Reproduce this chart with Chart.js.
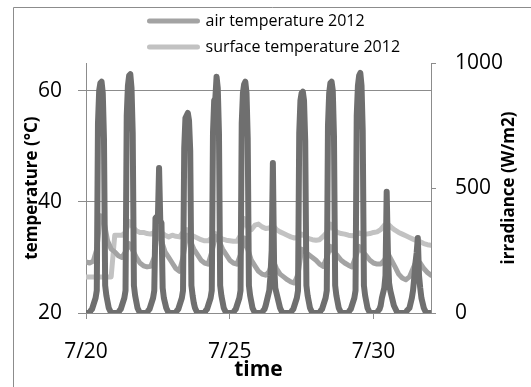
<!DOCTYPE html>
<html>
<head>
<meta charset="utf-8">
<script src="https://cdn.jsdelivr.net/npm/chart.js@4"></script>
<style>
  html, body { margin: 0; padding: 0; background: #fff; }
</style>
</head>
<body>
<canvas id="chart" width="531" height="387"></canvas>
<script>
// x axis is in days after 7/20 00:00
const tickDays = [0, 5, 10];
const tickLabels = ["7/20", "7/25", "7/30"];

// hourly irradiance (W/m2), one line per day, 7/20 .. 7/31, plus 8/1 00:00
const irradiance = [
  0, 0, 0, 0, 10, 15, 30, 45, 60, 90, 760, 890, 920, 925, 880, 700, 110, 70, 45, 20, 10, 0, 0, 0,
  0, 0, 0, 0, 10, 15, 30, 45, 60, 90, 790, 910, 950, 955, 900, 720, 110, 70, 45, 20, 10, 0, 0, 0,
  0, 0, 0, 0, 10, 15, 30, 45, 60, 90, 380, 385, 375, 580, 370, 360, 100, 60, 40, 20, 10, 0, 0, 0,
  0, 0, 0, 0, 10, 15, 30, 45, 60, 90, 660, 780, 790, 800, 770, 650, 110, 70, 40, 20, 10, 0, 0, 0,
  0, 0, 0, 0, 10, 15, 30, 45, 60, 90, 720, 850, 860, 945, 900, 720, 110, 70, 45, 20, 10, 0, 0, 0,
  0, 0, 0, 0, 10, 15, 30, 45, 60, 90, 760, 880, 915, 925, 880, 700, 110, 70, 45, 20, 10, 0, 0, 0,
  0, 0, 0, 0, 10, 15, 30, 50, 70, 90, 150, 250, 600, 200, 100, 80, 60, 40, 20, 10, 0, 0, 0, 0,
  0, 0, 0, 0, 10, 15, 30, 45, 60, 90, 720, 850, 880, 885, 850, 690, 110, 70, 45, 20, 10, 0, 0, 0,
  0, 0, 0, 0, 10, 15, 30, 45, 60, 90, 750, 880, 920, 925, 890, 710, 110, 70, 45, 20, 10, 0, 0, 0,
  0, 0, 0, 0, 10, 15, 30, 45, 60, 90, 790, 910, 950, 960, 910, 730, 110, 70, 45, 20, 10, 0, 0, 0,
  0, 0, 0, 0, 10, 15, 30, 60, 80, 100, 150, 485, 250, 120, 90, 70, 50, 30, 20, 10, 0, 0, 0, 0,
  0, 0, 0, 0, 10, 15, 20, 40, 60, 90, 140, 200, 240, 300, 150, 100, 60, 40, 20, 10, 0, 0, 0, 0,
  0
];

// 3-hourly temperatures (°C), one line per day, plus 8/1 00:00
const airTemp = [
  29.2, 29.0, 29.3, 31.5, 37.5, 36.5, 33.0, 31.5,
  31.0, 30.3, 30.0, 31.0, 32.5, 31.3, 30.0, 29.0,
  28.5, 28.3, 28.4, 30.0, 35.5, 33.0, 31.0, 30.0,
  29.0, 28.0, 27.5, 30.0, 34.0, 33.0, 31.5, 30.5,
  29.5, 29.0, 28.8, 31.0, 33.8, 33.0, 31.5, 30.5,
  29.5, 29.0, 28.8, 30.5, 33.5, 31.5, 29.5, 28.5,
  27.5, 27.0, 26.8, 27.5, 29.5, 28.0, 27.0, 26.5,
  26.0, 25.6, 25.4, 27.0, 31.5, 31.0, 30.5, 30.0,
  29.5, 28.8, 28.4, 30.0, 32.0, 31.0, 30.3, 29.5,
  29.0, 28.6, 28.3, 30.0, 32.0, 31.0, 30.3, 29.5,
  29.0, 28.8, 28.8, 29.5, 30.7, 29.5, 28.3, 27.0,
  26.3, 26.0, 26.5, 28.0, 29.5, 29.0, 28.0, 27.3,
  26.8
];

const surfaceTemp = [
  26.5, 26.5, 26.5, 26.5, 26.5, 26.5, 26.5, 26.5,
  34.0, 34.0, 34.0, 34.5, 36.5, 35.5, 34.8, 34.5,
  34.5, 34.3, 34.2, 34.5, 36.5, 34.5, 34.0, 33.7,
  34.0, 33.8, 33.7, 34.5, 35.0, 34.2, 33.8, 33.5,
  33.2, 33.0, 33.0, 33.5, 34.3, 33.7, 33.3, 33.1,
  33.0, 32.9, 32.9, 34.0, 37.0, 35.5, 35.0, 35.8,
  36.0, 35.5, 35.2, 35.3, 35.8, 35.0, 34.6, 34.3,
  34.0, 33.7, 33.5, 33.6, 34.2, 33.8, 33.4, 33.2,
  33.1, 33.2, 33.8, 34.5, 36.0, 35.0, 34.5, 34.3,
  34.2, 34.0, 33.9, 34.0, 34.4, 34.2, 34.2, 34.3,
  34.5, 34.6, 35.0, 35.8, 36.0, 35.4, 34.9, 34.5,
  34.2, 33.9, 33.6, 33.3, 33.0, 32.8, 32.5, 32.3,
  32.2
];

const FONT = "'Open Sans', 'Noto Sans', sans-serif";
const GRID = "#8c8c8c";

const toPoints = (values, hoursPerPoint) =>
  values.map((v, i) => ({ x: (i * hoursPerPoint) / 24, y: v }));

const lineStyle = {
  pointRadius: 0,
  borderWidth: 5,
  tension: 0,
  borderJoinStyle: "round",
  borderCapStyle: "round",
};

const extras = {
  id: "extras",
  afterLayout(chart) {
    // left-align both legend rows above the plot
    chart.legend.left = 139.5;
    chart.legend.top = 3;
  },
  beforeDraw(chart) {
    const ctx = chart.ctx;
    ctx.save();
    ctx.strokeStyle = GRID;
    ctx.lineWidth = 1;
    ctx.beginPath();
    ctx.moveTo(13.5, 387);
    ctx.lineTo(13.5, 7.5);
    ctx.lineTo(531, 7.5);
    ctx.stroke();
    ctx.restore();
  },
  afterDraw(chart) {
    const { ctx, chartArea } = chart;
    ctx.save();
    ctx.translate(509, (chartArea.top + chartArea.bottom) / 2);
    ctx.rotate(-Math.PI / 2);
    ctx.font = "bold 17px " + FONT;
    ctx.fillStyle = "#000";
    ctx.textAlign = "center";
    ctx.textBaseline = "middle";
    ctx.fillText("irradiance (W/m2)", 0, 0);
    ctx.restore();
  },
};

new Chart(document.getElementById("chart"), {
  type: "line",
  data: {
    datasets: [
      {
        label: "air temperature 2012",
        data: toPoints(airTemp, 3),
        borderColor: "#a3a3a3",
        backgroundColor: "#a3a3a3",
        yAxisID: "y",
        order: 1,
        ...lineStyle,
      },
      {
        label: "surface temperature 2012",
        data: toPoints(surfaceTemp, 3),
        borderColor: "#c2c2c2",
        backgroundColor: "#c2c2c2",
        yAxisID: "y",
        order: 2,
        ...lineStyle,
      },
      {
        label: "irradiance",
        data: toPoints(irradiance, 1),
        borderColor: "#6f6f6f",
        backgroundColor: "#6f6f6f",
        yAxisID: "y1",
        order: 0,
        ...lineStyle,
        borderWidth: 6,
      },
    ],
  },
  options: {
    responsive: false,
    animation: false,
    layout: { padding: { left: 22, right: 0, top: 1, bottom: 0 } },
    plugins: {
      tooltip: { enabled: false },
      legend: {
        position: "top",
        align: "start",
        fullSize: false,
        labels: {
          filter: (item) => item.datasetIndex < 2,
          boxWidth: 48,
          boxHeight: 0,
          padding: 10,
          color: "#000",
          font: { family: FONT, size: 16 },
        },
      },
    },
    scales: {
      x: {
        type: "linear",
        min: 0,
        max: 12,
        afterBuildTicks: (s) => {
          s.ticks = tickDays.map((v) => ({ value: v }));
        },
        afterFit: (s) => {
          s.height = 74;
        },
        ticks: {
          callback: (v, i) => tickLabels[i],
          autoSkip: false,
          maxRotation: 0,
          padding: 20,
          color: "#000",
          font: { family: FONT, size: 21 },
        },
        grid: { drawOnChartArea: false, tickLength: 6, color: GRID },
        border: { display: true, color: GRID },
        title: {
          display: true,
          text: "time",
          color: "#000",
          font: { family: FONT, size: 21, weight: "bold" },
          padding: { top: 0, bottom: 4 },
        },
      },
      y: {
        position: "left",
        min: 20,
        max: 65,
        afterFit: (s) => {
          s.width = 64;
        },
        ticks: {
          stepSize: 20,
          includeBounds: false,
          padding: 16,
          color: "#000",
          font: { family: FONT, size: 21 },
        },
        grid: { color: GRID, tickLength: 8 },
        border: { display: true, color: GRID },
        title: {
          display: true,
          text: "temperature (°C)",
          color: "#000",
          font: { family: FONT, size: 17, weight: "bold" },
          padding: 0,
        },
      },
      y1: {
        position: "right",
        min: 0,
        max: 1000,
        afterFit: (s) => {
          s.width = 100;
        },
        ticks: {
          stepSize: 500,
          padding: 19,
          callback: (v) => String(v),
          color: "#000",
          font: { family: FONT, size: 21 },
        },
        grid: { drawOnChartArea: false, tickLength: 5, color: GRID },
        border: { display: true, color: GRID },
      },
    },
  },
  plugins: [extras],
});
</script>
</body>
</html>
